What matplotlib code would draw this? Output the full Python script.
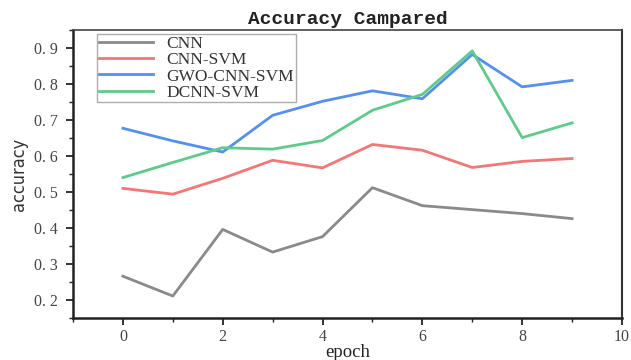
import matplotlib
matplotlib.use("Agg")
import matplotlib.pyplot as plt
from matplotlib.ticker import MultipleLocator

epochs = [0, 1, 2, 3, 4, 5, 6, 7, 8, 9]
cnn = [0.266, 0.211, 0.396, 0.333, 0.376, 0.512, 0.462, 0.451, 0.440, 0.426]
cnn_svm = [0.510, 0.494, 0.538, 0.588, 0.567, 0.632, 0.616, 0.568, 0.585, 0.593]
gwo_cnn_svm = [0.677, 0.642, 0.611, 0.713, 0.752, 0.781, 0.759, 0.882, 0.792, 0.810]
dcnn_svm = [0.540, 0.582, 0.623, 0.619, 0.643, 0.727, 0.771, 0.892, 0.651, 0.692]
series_names = ["CNN", "CNN-SVM", "GWO-CNN-SVM", "DCNN-SVM"]
yticks = [0.2, 0.3, 0.4, 0.5, 0.6, 0.7, 0.8, 0.9]
ytick_labels = ["0. 2", "0. 3", "0. 4", "0. 5", "0. 6", "0. 7", "0. 8", "0. 9"]
xticks = [0, 2, 4, 6, 8, 10]

colors = ["#8a8a8a", "#f47676", "#5590f0", "#5fcb8a"]

fig = plt.figure(figsize=(6.31, 3.6), dpi=100)
ax = fig.add_axes([0.1157, 0.1167, 0.87, 0.80])

for ys, name, c in zip([cnn, cnn_svm, gwo_cnn_svm, dcnn_svm], series_names, colors):
    ax.plot(epochs, ys, color=c, lw=2.0, label=name)

ax.set_xlim(-1, 10)
ax.set_ylim(0.15, 0.95)
ax.set_xticks(xticks)
ax.xaxis.set_minor_locator(MultipleLocator(1))
ax.set_yticks(yticks)
ax.set_yticklabels(ytick_labels)
ax.yaxis.set_minor_locator(MultipleLocator(0.05))

for lab in ax.get_xticklabels() + ax.get_yticklabels():
    lab.set_fontfamily("Liberation Serif")
    lab.set_fontsize(11.5)
    lab.set_color("#444444")

ax.tick_params(axis="both", which="major", direction="out", length=5, width=1.3, color="#222222")
ax.tick_params(axis="both", which="minor", direction="out", length=3, width=1.0, color="#222222")
ax.tick_params(axis="x", pad=3)
ax.tick_params(axis="y", pad=6)

for s in ["left", "bottom"]:
    ax.spines[s].set_linewidth(1.8)
    ax.spines[s].set_color("#222222")
ax.spines["right"].set_linewidth(1.5)
ax.spines["right"].set_color("#333333")
ax.spines["top"].set_linewidth(1.2)
ax.spines["top"].set_color("#444444")

ax.set_title("Accuracy Campared", fontfamily="Liberation Mono", fontweight="bold",
             fontsize=14, color="#222222", pad=4)
ax.set_xlabel("epoch", fontfamily="Liberation Serif", fontsize=13.5, color="#222222", labelpad=-1)
ax.set_ylabel("accuracy", fontfamily="DejaVu Sans", fontstretch="condensed", fontsize=13,
              color="#333333", labelpad=4)

leg = ax.legend(loc="upper left", bbox_to_anchor=(0.036, 1.0), prop=dict(family="Liberation Serif", size=12.5),
                frameon=True, fancybox=False, edgecolor="#999999", handlelength=3.1,
                borderpad=0.1, labelspacing=0.0, handletextpad=0.8, borderaxespad=0.25)
leg.get_frame().set_linewidth(1.0)
for t in leg.get_texts():
    t.set_color("#333333")

fig.savefig("out.png", dpi=100)
